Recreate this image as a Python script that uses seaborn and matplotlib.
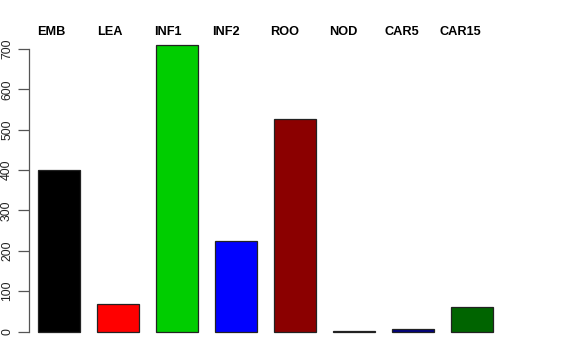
import matplotlib
matplotlib.use("Agg")
import matplotlib.pyplot as plt
import seaborn as sns
import pandas as pd

categories = ["EMB", "LEA", "INF1", "INF2", "ROO", "NOD", "CAR5", "CAR15"]
values = [401, 68, 710, 223, 527, 2, 5, 61]
colors = ["#000000", "#FF0000", "#00CD00", "#0000FF", "#8B0000", "#551A8B", "#000080", "#006400"]
yticks = [0, 100, 200, 300, 400, 500, 600, 700]

sns.set_theme(style="white")
plt.rcParams["font.family"] = ["Liberation Sans", "DejaVu Sans"]

df = pd.DataFrame({"tissue": categories, "value": values})

fig = plt.figure(figsize=(5.76, 3.6), dpi=100)
W, H = 576, 360
ax = fig.add_axes([29 / W, (H - 340) / H, (540 - 29) / W, (340 - 10) / H])

sns.barplot(data=df, x="tissue", y="value", hue="tissue", palette=colors,
            order=categories, hue_order=categories, legend=False,
            width=0.715, edgecolor="#222222", linewidth=0.9, saturation=1, ax=ax)

px_per_unit = 0.4036
base_px = 331.5
ax.set_ylim((base_px - 340) / px_per_unit, (base_px - 10) / px_per_unit)
ax.set_xlim((29 - 59.3) / 59.0, (540 - 59.3) / 59.0)

ax.set_yticks(yticks)
ax.set_yticklabels([str(t) for t in yticks], rotation=90, va="center", fontsize=8.8, color="#222222")
ax.set_xticks([])
ax.set_xlabel("")
ax.set_ylabel("")
for s in ["top", "right", "bottom"]:
    ax.spines[s].set_visible(False)
ax.spines["left"].set_bounds(0, 700)
ax.spines["left"].set_color("#555555")
ax.spines["left"].set_linewidth(0.9)
ax.tick_params(axis="y", left=True, length=8, width=0.9, color="#555555", pad=3.5)

label_y = (base_px - 35) / px_per_unit
for i, c in enumerate(categories):
    ax.text(i * 0.99 - 0.14, label_y, c, ha="center", va="baseline", fontsize=9.2,
            fontweight="bold", color="black", clip_on=False)

fig.savefig("out.png", dpi=100)
